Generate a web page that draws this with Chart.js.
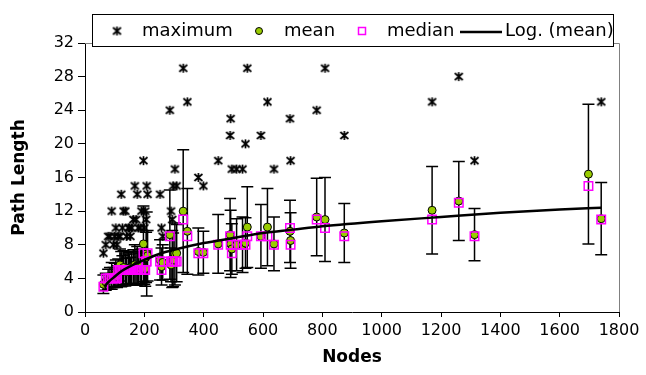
<!DOCTYPE html>
<html>
<head>
<meta charset="utf-8">
<script src="https://cdn.jsdelivr.net/npm/chart.js@4.4.1/dist/chart.umd.min.js"></script>
<style>
  html, body { margin: 0; padding: 0; background: #fff; }
</style>
</head>
<body>
<canvas id="chart" width="646" height="375"></canvas>
<script>
// values, one entry per network size
const nodes     = [62, 70, 78, 84, 90, 96, 100, 104, 108, 112, 118, 122, 126, 130, 136, 140, 146, 150, 153, 157,
                   163, 168, 172, 176, 180, 186, 190, 197, 200, 203, 206, 208, 211, 253, 258, 262, 286, 290, 294, 297,
                   303, 309, 331, 345, 382, 399, 449, 489, 491, 495, 511, 531, 541, 547, 593, 615, 637, 691, 693, 781,
                   809, 874, 1170, 1260, 1313, 1697, 1740];
const maxLen    = [7, 8, 9, 9, 12, 8, 9, 10, 8, 9, 9, 14, 10, 12, 12, 9, 10, 10, 9, 10,
                   11, 15, 11, 14, 10, 10, 12, 18, 10, 12, 11, 15, 14, 14, 10, 9, 24, 12, 11, 15,
                   17, 15, 29, 25, 16, 15, 18, 21, 23, 17, 17, 17, 20, 29, 21, 25, 17, 23, 18, 24,
                   29, 21, 25, 28, 18, null, 25];
const meanLen   = [3.3, 3.6, 3.9, 4.0, 4.3, 4.1, 4.4, 4.6, 4.2, 4.7, 5.6, 5.1, 4.9, 5.3, 5.0, 4.8, 5.2, 5.1, 4.9, 5.3,
                   5.4, 5.6, 5.2, 5.5, 5.3, 5.1, 5.4, 8.1, 5.2, 5.15, 6.5, 6.9, 6.7, 6.2, 5.4, 5.9, 9.2, 5.6, 6.3, 6.2,
                   6.9, 7.0, 12.0, 9.6, 7.2, 7.1, 8.1, 9.2, 8.1, 7.5, 8.0, 8.0, 8.2, 10.1, 9.0, 10.1, 8.1, 9.6, 8.5, 11.3,
                   11.0, 9.4, 12.1, 13.2, 9.2, 16.4, 11.1];
const medianLen = [3, 4, 4, 4, 4, 4, 4, 4, 4, 5, 5, 5, 5, 5, 5, 5, 5, 5, 5, 5,
                   5, 5, 5, 5, 5, 5, 5, 7, 5, 5, 6, 6, 7, 6, 5, 6, 9, 6, 6, 6,
                   6, 6, 11, 9, 7, 7, 8, 9, 8, 7, 8, 8, 8, 9, 9, 9, 8, 10, 8, 11,
                   10, 9, 11, 13, 9, 15, 11];
const errLen    = [1.1, 1.0, 1.2, 1.3, 1.6, 1.2, 1.4, 1.6, 1.3, 1.6, 1.9, 2.1, 1.8, 2.0, 1.9, 1.6, 1.9, 1.8, 1.6, 1.9,
                   2.0, 2.4, 2.0, 2.3, 1.9, 1.9, 2.1, 4.5, 1.9, 2.1, 3.0, 5.0, 3.0, 2.4, 2.2, 2.1, 5.3, 2.0, 3.4, 3.2,
                   3.7, 3.4, 7.3, 5.1, 2.8, 2.5, 3.5, 4.3, 4.0, 3.0, 3.1, 3.3, 3.0, 4.8, 3.8, 4.6, 3.2, 3.7, 3.3, 4.6,
                   5.0, 3.5, 5.2, 4.7, 3.1, 8.3, 4.3];

// logarithmic trend of the mean
const trendNodes = [65, 80, 100, 125, 150, 200, 250, 300, 400, 500, 600, 700, 800, 1000, 1200, 1400, 1600, 1740];
const trendLen   = [3.0, 3.6, 4.2, 4.9, 5.4, 6.2, 6.9, 7.4, 8.2, 8.8, 9.4, 9.8, 10.2, 10.8, 11.3, 11.8, 12.2, 12.4];

const xTicks = [0, 200, 400, 600, 800, 1000, 1200, 1400, 1600, 1800];
const yTicks = [0, 4, 8, 12, 16, 20, 24, 28, 32];

const FONT = 'DejaVu Sans';
Chart.defaults.font.family = FONT;
Chart.defaults.color = '#000';

// excel style star marker: an x with a vertical stroke
function starMarker() {
    const c = document.createElement('canvas');
    c.width = 11; c.height = 11;
    const g = c.getContext('2d');
    g.strokeStyle = '#000';
    g.lineWidth = 1.7;
    g.beginPath();
    g.moveTo(1.5, 2); g.lineTo(9.5, 9);
    g.moveTo(9.5, 2); g.lineTo(1.5, 9);
    g.moveTo(5.5, 1); g.lineTo(5.5, 10);
    g.stroke();
    return c;
}
const star = starMarker();

const pts = (xs, ys) => xs.map((x, i) => ({ x: x, y: ys[i] })).filter(p => p.y !== null);

// error bars around the mean, drawn under the markers
const errorBars = {
    id: 'errorBars',
    beforeDatasetsDraw(chart) {
        const xs = chart.scales.x, ys = chart.scales.y, ctx = chart.ctx;
        ctx.save();
        ctx.strokeStyle = '#000';
        ctx.lineWidth = 1.5;
        nodes.forEach((n, i) => {
            const px = xs.getPixelForValue(n);
            const top = ys.getPixelForValue(meanLen[i] + errLen[i]);
            const bot = ys.getPixelForValue(meanLen[i] - errLen[i]);
            ctx.beginPath();
            ctx.moveTo(px, top); ctx.lineTo(px, bot);
            ctx.moveTo(px - 6, top); ctx.lineTo(px + 6, top);
            ctx.moveTo(px - 6, bot); ctx.lineTo(px + 6, bot);
            ctx.stroke();
        });
        ctx.restore();
    }
};

// grey frame on the top and right of the plot area
const frame = {
    id: 'frame',
    beforeDatasetsDraw(chart) {
        const a = chart.chartArea, ctx = chart.ctx;
        ctx.save();
        ctx.strokeStyle = '#808080';
        ctx.lineWidth = 1;
        ctx.beginPath();
        ctx.moveTo(a.left, a.top + 0.5);
        ctx.lineTo(a.right + 0.5, a.top + 0.5);
        ctx.lineTo(a.right + 0.5, a.bottom);
        ctx.stroke();
        ctx.restore();
    }
};

// boxed legend laid over the top edge of the plot
const boxLegend = {
    id: 'boxLegend',
    afterDraw(chart) {
        const ctx = chart.ctx;
        const ds = chart.data.datasets;
        const bx = 92.5, by = 14.5, bw = 521, bh = 32, cy = 31;
        ctx.save();
        ctx.fillStyle = '#fff';
        ctx.fillRect(bx, by, bw, bh);
        ctx.strokeStyle = '#000';
        ctx.lineWidth = 1;
        ctx.strokeRect(bx, by, bw, bh);
        ctx.beginPath();
        ctx.rect(bx + 0.5, by + 0.5, bw - 1, bh - 1);
        ctx.clip();

        ctx.font = '18px "' + FONT + '"';
        ctx.fillStyle = '#000';
        ctx.textBaseline = 'middle';

        const maxDs = ds.find(d => d.key === 'max');
        const meanDs = ds.find(d => d.key === 'mean');
        const medDs = ds.find(d => d.key === 'median');
        const trDs = ds.find(d => d.key === 'trend');

        ctx.drawImage(star, 117 - 5.5, cy - 5.5);
        ctx.fillText(maxDs.label, 142, cy);

        ctx.beginPath();
        ctx.arc(259, cy, 3.5, 0, Math.PI * 2);
        ctx.fillStyle = meanDs.backgroundColor;
        ctx.fill();
        ctx.lineWidth = 1;
        ctx.strokeStyle = '#000';
        ctx.stroke();
        ctx.fillStyle = '#000';
        ctx.fillText(meanDs.label, 284, cy);

        ctx.strokeStyle = medDs.borderColor;
        ctx.lineWidth = 1.5;
        ctx.strokeRect(358.5, cy - 3.5, 7, 7);
        ctx.fillText(medDs.label, 387, cy);

        ctx.strokeStyle = trDs.borderColor;
        ctx.lineWidth = 2.5;
        ctx.beginPath();
        ctx.moveTo(460, cy + 1);
        ctx.lineTo(502, cy + 1);
        ctx.stroke();
        ctx.fillText(trDs.label, 505, cy);
        ctx.restore();
    }
};

new Chart(document.getElementById('chart'), {
    type: 'scatter',
    data: {
        datasets: [
            {
                key: 'trend',
                label: 'Log. (mean)',
                data: pts(trendNodes, trendLen),
                showLine: true,
                borderColor: '#000',
                borderWidth: 2.5,
                pointRadius: 0,
                cubicInterpolationMode: 'monotone',
                order: 0
            },
            {
                key: 'median',
                label: 'median',
                data: pts(nodes, medianLen),
                pointStyle: 'rect',
                pointRadius: 6,
                borderColor: '#ff00ff',
                backgroundColor: 'rgba(0,0,0,0)',
                borderWidth: 1.5,
                order: 1
            },
            {
                key: 'mean',
                label: 'mean',
                data: pts(nodes, meanLen),
                pointStyle: 'circle',
                pointRadius: 4,
                backgroundColor: '#99cc00',
                borderColor: '#000',
                borderWidth: 1,
                order: 2
            },
            {
                key: 'max',
                label: 'maximum',
                data: pts(nodes, maxLen),
                pointStyle: star,
                order: 3
            }
        ]
    },
    options: {
        responsive: false,
        animation: false,
        layout: { padding: { left: 0, right: 27, top: 43, bottom: 0 } },
        plugins: {
            legend: { display: false },
            tooltip: { enabled: false }
        },
        scales: {
            x: {
                type: 'linear',
                min: 0,
                max: 1800,
                afterBuildTicks: s => { s.ticks = xTicks.map(v => ({ value: v })); },
                afterFit: s => { s.height = 63; },
                grid: { drawOnChartArea: false, tickLength: 5, color: '#000' },
                border: { color: '#000', width: 1 },
                ticks: { font: { size: 16 }, padding: 4, maxRotation: 0, callback: v => String(v) },
                title: { display: true, text: 'Nodes', font: { size: 17, weight: 'bold' }, padding: { top: 0, bottom: 7 } }
            },
            y: {
                min: 0,
                max: 32,
                afterBuildTicks: s => { s.ticks = yTicks.map(v => ({ value: v })); },
                afterFit: s => { s.width = 85; },
                grid: { drawOnChartArea: false, tickLength: 7, color: '#000' },
                border: { color: '#000', width: 1 },
                ticks: { font: { size: 16 }, padding: 4, callback: v => String(v) },
                title: { display: true, text: 'Path Length', font: { size: 17, weight: 'bold' }, padding: { top: 9, bottom: 0 } }
            }
        }
    },
    plugins: [frame, errorBars, boxLegend]
});
</script>
</body>
</html>
